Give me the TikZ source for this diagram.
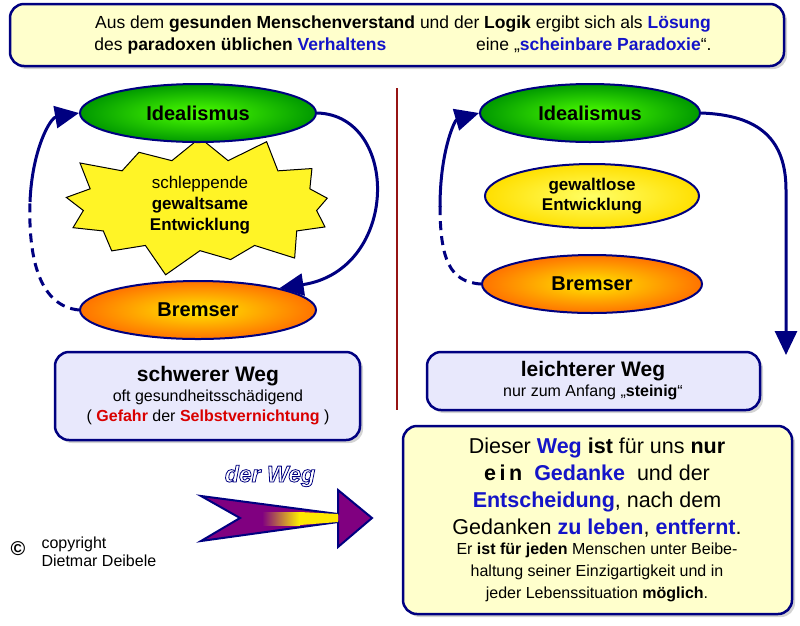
\documentclass[tikz,border=0pt]{standalone}
\usepackage{fontspec}
\setmainfont{Liberation Sans}
\usetikzlibrary{shadows,shapes.misc,shapes.geometric,shapes.symbols,arrows.meta,positioning}
\definecolor{navy}{RGB}{0,0,128}
\definecolor{txtblue}{RGB}{20,20,200}
\definecolor{paleyellow}{RGB}{255,255,204}
\definecolor{lavender}{RGB}{232,232,252}
\definecolor{darkred}{RGB}{150,20,20}
\definecolor{wegpurple}{RGB}{128,0,128}
\newcommand{\bl}[1]{\textcolor{txtblue}{\textbf{#1}}}
\newcommand{\rd}[1]{\textcolor{red!85!black}{\textbf{#1}}}
\newcommand{\bigsz}{\fontsize{21.5}{27}\selectfont}
\newcommand{\smallsz}{\fontsize{16}{22}\selectfont}
\newcommand{\outlined}[1]{\special{pdf:literal direct 2 Tr 0.8 w 0 0 0.5 RG}#1\special{pdf:literal direct 0 Tr}}
\tikzset{
  infobox/.style={draw=navy,line width=2.5pt,rounded corners=14pt,drop shadow={opacity=0.35,shadow xshift=3pt,shadow yshift=-3pt}},
  greenell/.style={ellipse,draw=navy,line width=2pt,inner color=green!70!yellow,outer color=green!60!black,minimum width=236pt,minimum height=58pt,font=\fontsize{20}{22}\selectfont\bfseries},
  orangeell/.style={ellipse,draw=navy,line width=2pt,inner color=yellow!80!orange,outer color=orange!90!red,minimum width=236pt,minimum height=58pt,font=\fontsize{20}{22}\selectfont\bfseries},
  cycarrow/.style={navy,line width=3pt,-{Triangle[length=24pt,width=22pt]}},
  dasharrow/.style={navy,line width=3pt,dash pattern=on 9pt off 6pt}
}
\begin{document}
\begin{tikzpicture}[x=1pt,y=-1pt]
\useasboundingbox (0,0) rectangle (800,625);
% top box
\draw[infobox,fill=paleyellow] (10,4) rectangle (784,66);
\node[align=center,font=\fontsize{17.5}{22}\selectfont] (head) at (403,35)
  {Aus dem \textbf{gesunden Menschenverstand} und der \textbf{Logik} ergibt sich als \bl{Lösung}\\
   des \textbf{paradoxen üblichen} \bl{Verhaltens}\hspace{85pt} eine „\bl{scheinbare Paradoxie}“.};

% left side
\node[starburst,starburst points=13,starburst point height=30pt,draw,line width=1pt,fill=yellow!85!white,
  minimum width=295pt,minimum height=118pt,align=center,font=\fontsize{17}{21}\selectfont] (burst) at (200,205)
  {schleppende\\\textbf{gewaltsame}\\\textbf{Entwicklung}};
\node[greenell] (idealL) at (198,113) {Idealismus};
\node[orangeell] (bremsL) at (198,310) {Bremser};
\draw[cycarrow] (idealL.east) .. controls (400,115) and (400,270) .. (bremsL.15);
\draw[dasharrow] (bremsL.west) .. controls (40,306) and (28,260) .. (30,200);
\draw[cycarrow] (30,202) .. controls (32,150) and (50,118) .. (idealL.west);

% divider
\draw[darkred,line width=1.5pt] (397,88) -- (397,410);

% right side
\node[greenell,minimum width=220pt] (idealR) at (590,113) {Idealismus};
\node[ellipse,draw=navy,line width=2pt,inner color=yellow!60!white,outer color=yellow!75!orange,
  minimum width=214pt,minimum height=64pt,align=center,font=\fontsize{17}{20}\selectfont\bfseries] (gewaltlos) at (592,196)
  {gewaltlose\\Entwicklung};
\node[orangeell,minimum width=220pt] (bremsR) at (592,284) {Bremser};
\coordinate (downend) at (786,355);
\draw[cycarrow] (idealR.east) .. controls (760,115) and (786,140) .. (786,190) -- (downend);
\draw[dasharrow] (bremsR.west) .. controls (450,282) and (440,260) .. (440,205);
\draw[cycarrow] (440,207) .. controls (440,150) and (455,120) .. (idealR.west);

% way boxes
\draw[infobox,fill=lavender] (55,352) rectangle (360,440);
\node[align=center,font=\fontsize{16}{20}\selectfont] (hard) at (208,396)
  {\textbf{\fontsize{21}{23}\selectfont schwerer Weg}\\oft gesundheitsschädigend\\( \rd{Gefahr} der \rd{Selbstvernichtung} )};
\draw[infobox,fill=lavender] (427,352) rectangle (760,410);
\node[align=center,font=\fontsize{16}{20}\selectfont] (easy) at (593,381)
  {\textbf{\fontsize{21}{23}\selectfont leichterer Weg}\\nur zum Anfang „\textbf{steinig}“};

% bottom box
\draw[infobox,fill=paleyellow] (403,426) rectangle (792,614);
\node[align=center,font=\bigsz] (concl) at (597,488)
  {Dieser \bl{Weg} \textbf{ist} für uns \textbf{nur}\\
   \textbf{e\,i\,n} \ \bl{Gedanke} \ und der\\
   \bl{Entscheidung}, nach dem\\
   Gedanken \bl{zu leben}, \bl{entfernt}.};
\node[align=center,font=\smallsz,below=-2pt of concl] (concl2)
  {Er \textbf{ist für jeden} Menschen unter Beibe-\\
   haltung seiner Einzigartigkeit und in\\
   jeder Lebenssituation \textbf{möglich}.};

% way arrow
\draw[navy,line width=2pt,fill=wegpurple] (201,496) -- (338,514) -- (338,490) -- (372,518) -- (338,547) -- (338,522) -- (201,541) -- (240,518) -- cycle;
\shade[left color=wegpurple,right color=yellow!90!orange] (262,512) rectangle (300,525);
\fill[yellow!90!orange] (300,512) -- (338,514) -- (338,522) -- (300,525) -- cycle;
\node[font=\fontsize{23}{25}\selectfont\bfseries\itshape,text=white] (weglabel) at (270,476) {\outlined{der Weg}};
% copyright
\node[font=\fontsize{20}{20}\selectfont\bfseries] (cmark) at (18,549) {©};
\node[anchor=west,align=left,font=\fontsize{16}{18}\selectfont] (copy) at (38,552) {copyright\\Dietmar Deibele};
\end{tikzpicture}
\end{document}
